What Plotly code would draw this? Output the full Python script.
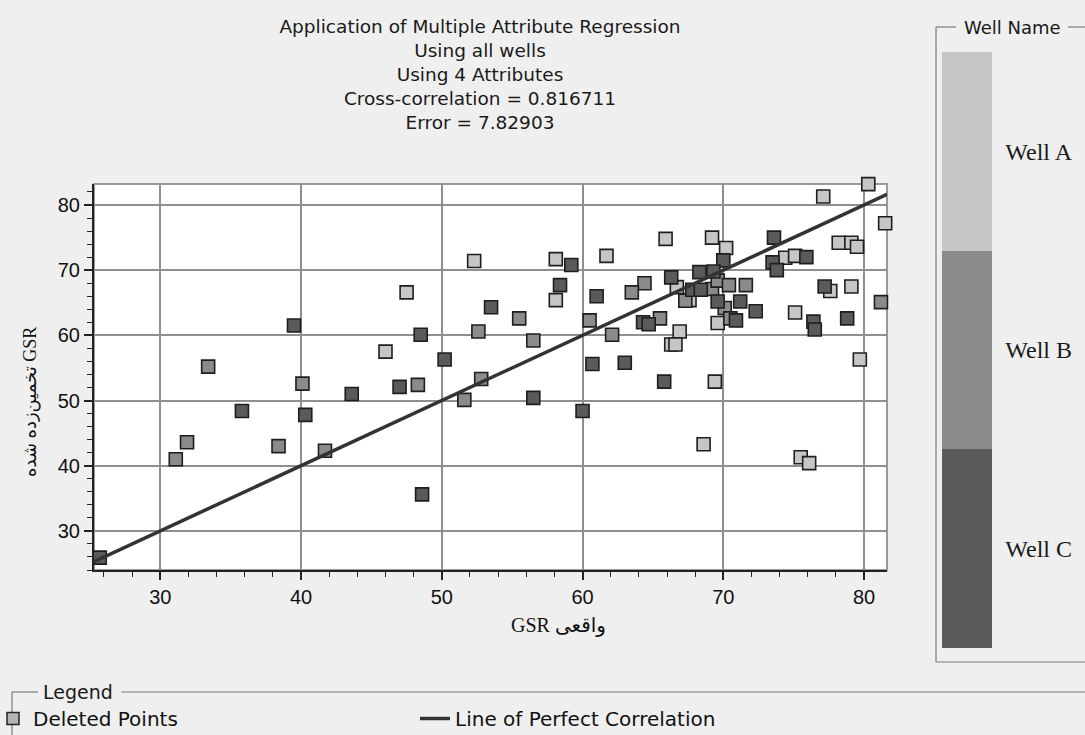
import plotly.graph_objects as go

# ---------------- data ----------------
well_a_x = [52.3, 58.1, 61.7, 47.5, 58.1, 46.0, 69.4, 68.6, 75.5, 76.1, 80.3, 77.1, 81.5,
            65.9, 69.2, 70.2, 78.2, 79.1, 79.5, 74.4, 75.1, 66.7, 67.6, 75.1, 77.6, 79.1,
            66.9, 66.3, 66.6, 69.6, 79.7]
well_a_y = [71.4, 71.7, 72.2, 66.6, 65.4, 57.5, 52.9, 43.3, 41.3, 40.4, 83.2, 81.3, 77.2,
            74.8, 75.0, 73.4, 74.2, 74.2, 73.6, 71.9, 72.2, 67.4, 65.4, 63.5, 66.8, 67.5,
            60.6, 58.6, 58.6, 61.9, 56.3]

well_b_x = [33.4, 40.1, 31.9, 38.4, 31.1, 41.7, 55.5, 60.5, 52.6, 56.5, 62.1, 48.3, 52.8,
            51.6, 64.4, 63.5, 69.2, 69.6, 70.4, 71.6, 67.3, 70.1, 81.2, 65.5, 70.5]
well_b_y = [55.2, 52.6, 43.6, 43.0, 41.0, 42.3, 62.6, 62.3, 60.6, 59.2, 60.1, 52.4, 53.3,
            50.1, 68.0, 66.6, 67.1, 68.4, 67.7, 67.7, 65.3, 64.2, 65.1, 62.6, 62.6]

well_c_x = [39.5, 43.6, 35.8, 40.3, 25.7, 59.2, 58.4, 61.0, 53.5, 48.5, 50.2, 60.7, 63.0,
            47.0, 56.5, 60.0, 48.6, 65.8, 73.6, 70.0, 73.5, 75.9, 73.8, 68.3, 69.3, 66.3,
            67.8, 68.4, 69.6, 71.2, 72.3, 77.2, 64.3, 64.7, 70.9, 76.4, 76.5, 78.8]
well_c_y = [61.5, 51.0, 48.4, 47.8, 25.9, 70.8, 67.7, 66.0, 64.3, 60.1, 56.3, 55.6, 55.8,
            52.1, 50.4, 48.4, 35.6, 52.9, 75.0, 71.5, 71.2, 72.0, 70.0, 69.7, 69.8, 68.9,
            67.0, 67.0, 65.2, 65.2, 63.7, 67.5, 62.0, 61.7, 62.3, 62.1, 60.9, 62.6]

well_names = ["Well A", "Well B", "Well C"]
well_codes = [2, 1, 0]          # colour index used by the colour bar (C at bottom)
well_colors = ["#5a5a5a", "#8b8b8b", "#c6c6c6"]  # code 0, 1, 2

x_range = [25.29, 81.63]
y_range = [24.0, 83.22]

title_lines = ["Application of Multiple Attribute Regression", "Using all wells",
               "Using 4 Attributes", "Cross-correlation = 0.816711", "Error = 7.82903"]
x_title = "GSR واقعی"
y_title = "تخمین\u200cزده شده GSR"

# ---------------- geometry helpers (layout only) ----------------
W, H = 1085, 735
L, R, T, B = 94, 887, 184, 570


def px(x):
    return (x - L) / (R - L)


def py(y):
    return (B - y) / (B - T)


all_x = well_a_x + well_b_x + well_c_x
all_y = well_a_y + well_b_y + well_c_y
all_c = ([well_codes[0]] * len(well_a_x) + [well_codes[1]] * len(well_b_x)
         + [well_codes[2]] * len(well_c_x))

cscale = [[0, well_colors[0]], [1 / 3, well_colors[0]],
          [1 / 3, well_colors[1]], [2 / 3, well_colors[1]],
          [2 / 3, well_colors[2]], [1, well_colors[2]]]

fig = go.Figure()

fig.add_trace(go.Scatter(
    x=all_x, y=all_y, mode="markers", showlegend=False, cliponaxis=False,
    marker=dict(symbol="square", size=13, color=all_c, colorscale=cscale,
                cmin=-0.5, cmax=2.5, line=dict(color="#1e1e1e", width=1.6),
                colorbar=dict(
                    x=px(942), xanchor="left", y=py(350), yanchor="middle",
                    len=596, lenmode="pixels", thickness=50, thicknessmode="pixels",
                    outlinewidth=0, xpad=0, ypad=0,
                    tickvals=[0, 1, 2], ticktext=["Well C", "Well B", "Well A"],
                    ticks="outside", ticklen=9, tickcolor="rgba(0,0,0,0)",
                    tickfont=dict(family="Liberation Serif", size=24, color="#1a1a1a"),
                )),
    hoverinfo="x+y",
))

fig.add_trace(go.Scatter(
    x=[None], y=[None], mode="markers", name="Deleted Points",
    marker=dict(symbol="square", size=12, color="#b4b4b4",
                line=dict(color="#222", width=1.5)),
))

fig.add_trace(go.Scatter(
    x=x_range, y=x_range, mode="lines", name="Line of Perfect Correlation",
    line=dict(color="#333333", width=3.5), cliponaxis=True,
))

axis_common = dict(
    showgrid=True, gridcolor="#8f8f8f", gridwidth=2, zeroline=False,
    showline=True, linecolor="#222222", linewidth=2,
    ticks="outside", ticklen=8, tickwidth=1.5, tickcolor="#222222",
    tickfont=dict(family="Liberation Sans", size=20, color="#111111"),
    minor=dict(dtick=2, ticks="outside", ticklen=5, tickwidth=1.2,
               tickcolor="#222222", showgrid=False),
    dtick=10, tick0=0, automargin=False,
)

fig.update_layout(
    width=W, height=H,
    margin=dict(l=L, r=W - R, t=T, b=H - B, pad=0, autoexpand=False),
    paper_bgcolor="#efefef", plot_bgcolor="#ffffff",
    title=dict(text="<br>".join(title_lines), x=480 / W, xanchor="center",
               xref="container", y=1 - 33 / H, yanchor="top", yref="container",
               font=dict(family="DejaVu Sans", size=18.5, color="#1a1a1a")),
    xaxis=dict(range=x_range, **axis_common),
    yaxis=dict(range=y_range, **axis_common),
    showlegend=True,
    legend=dict(orientation="h", x=px(-7), xanchor="left", y=py(699), yanchor="top",
                bgcolor="rgba(0,0,0,0)", borderwidth=0,
                entrywidth=377, entrywidthmode="pixels",
                font=dict(family="DejaVu Sans", size=20, color="#111111")),
)

line_style = dict(color="#7a7a7a", width=1.2)
shapes = [
    # plot border
    dict(type="rect", xref="paper", yref="paper", x0=0, x1=1, y0=0, y1=1,
         line=dict(color="#9a9a9a", width=2), layer="between"),
    # Well Name group box
    dict(type="line", xref="paper", yref="paper", x0=px(936), x1=px(936), y0=py(27), y1=py(662), line=line_style),
    dict(type="line", xref="paper", yref="paper", x0=px(936), x1=px(1085), y0=py(662), y1=py(662), line=line_style),
    dict(type="line", xref="paper", yref="paper", x0=px(936), x1=px(956), y0=py(27), y1=py(27), line=line_style),
    dict(type="line", xref="paper", yref="paper", x0=px(1068), x1=px(1085), y0=py(27), y1=py(27), line=line_style),
    # Legend group box
    dict(type="line", xref="paper", yref="paper", x0=px(12), x1=px(12), y0=py(692), y1=py(735), line=line_style),
    dict(type="line", xref="paper", yref="paper", x0=px(12), x1=px(38), y0=py(692), y1=py(692), line=line_style),
    dict(type="line", xref="paper", yref="paper", x0=px(121), x1=px(1085), y0=py(692), y1=py(692), line=line_style),
]
fig.update_layout(shapes=shapes)

annotations = [
    dict(text="Well Name", x=px(1012), y=py(27), xref="paper", yref="paper",
         xanchor="center", yanchor="middle", showarrow=False,
         font=dict(family="DejaVu Sans", size=18, color="#1a1a1a")),
    dict(text="Legend", x=px(41), y=py(692), xref="paper", yref="paper",
         xanchor="left", yanchor="middle", showarrow=False,
         font=dict(family="DejaVu Sans", size=19, color="#1a1a1a")),
    dict(text=x_title, x=px(558), y=py(625), xref="paper", yref="paper",
         xanchor="center", yanchor="middle", showarrow=False,
         font=dict(family="Liberation Serif, DejaVu Sans", size=20, color="#111111")),
    dict(text=y_title, x=px(30), y=py(402), xref="paper", yref="paper",
         xanchor="center", yanchor="middle", showarrow=False, textangle=-90,
         font=dict(family="Liberation Serif, DejaVu Sans", size=18, color="#111111")),
]
fig.update_layout(annotations=annotations)

fig.write_html("out.html",
               config={"displayModeBar": False},
               post_script="document.body.style.margin='0';"
                           "document.body.style.background='#efefef';")
